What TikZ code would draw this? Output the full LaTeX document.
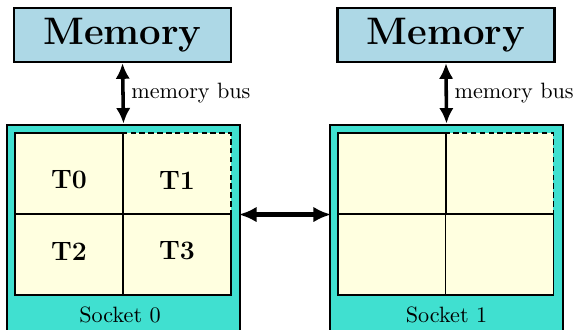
\documentclass[tikz,border=0pt]{standalone}
\usetikzlibrary{arrows.meta}
\definecolor{memblue}{RGB}{173,216,230}
\definecolor{socketcol}{RGB}{64,224,208}
\definecolor{cellcol}{RGB}{255,255,224}
\begin{document}
\begin{tikzpicture}[x=0.451pt,y=-0.451pt,
  mem/.style={draw,line width=1.1pt,fill=memblue,minimum width=97.9pt,minimum height=24.4pt,inner sep=0pt,font=\LARGE\bfseries},
  sock/.style={draw,line width=1.3pt,fill=socketcol,minimum width=105.1pt,minimum height=94.7pt,inner sep=0pt},
  cell/.style={draw,line width=0.5pt,fill=cellcol,minimum width=48.7pt,minimum height=36.5pt,inner sep=0pt},
  dcell/.style={cell,dash pattern=on 2.5pt off 1.5pt},
  ttxt/.style={font=\large\bfseries,inner sep=0pt},
  bus/.style={line width=1.6pt,{Latex[length=7pt,width=6.5pt]}-{Latex[length=7pt,width=6.5pt]}},
  link/.style={line width=2.1pt,{Latex[length=8pt,width=7pt]}-{Latex[length=8pt,width=7pt]},shorten <=-1.2pt,shorten >=-1.2pt},
  lbl/.style={font=\normalsize,inner sep=2pt}]
\useasboundingbox (0,0) rectangle (576,329);
\clip (0,0) rectangle (576,329);
% memories
\node[mem] (m0) at (122.5,35) {Memory};
\node[mem] (m1) at (446,35) {Memory};
% sockets
\node[sock] (s0) at (123.5,230) {};
\node[sock] (s1) at (446.5,230) {};
% cells socket 0
\node[dcell] (a1) at (177,173.5) {};
\node[cell] (a0) at (69,173.5) {};
\node[cell] (a2) at (69,254.5) {};
\node[cell] (a3) at (177,254.5) {};
\node[ttxt] (t0) at (69,180) {T0};
\node[ttxt] (t1) at (177,180) {T1};
\node[ttxt] (t2) at (69,251) {T2};
\node[ttxt] (t3) at (177,251) {T3};
% cells socket 1
\node[dcell] (b1) at (499.5,173.5) {};
\node[cell] (b0) at (392,173.5) {};
\node[cell] (b2) at (392,254.5) {};
\node[cell] (b3) at (499.5,254.5) {};
% labels
\node[lbl] (l0) at (120,315) {Socket 0};
\node[lbl] (l1) at (446.5,315) {Socket 1};
% buses
\draw[bus] (m0.south) -- (s0.north) node[midway,right,lbl,xshift=1pt] {memory bus};
\draw[bus] (m1.south) -- (s1.north) node[midway,right,lbl,xshift=1pt] {memory bus};
\draw[link] (s0.east |- a1.south) -- (s1.west |- b1.south);
\end{tikzpicture}
\end{document}
